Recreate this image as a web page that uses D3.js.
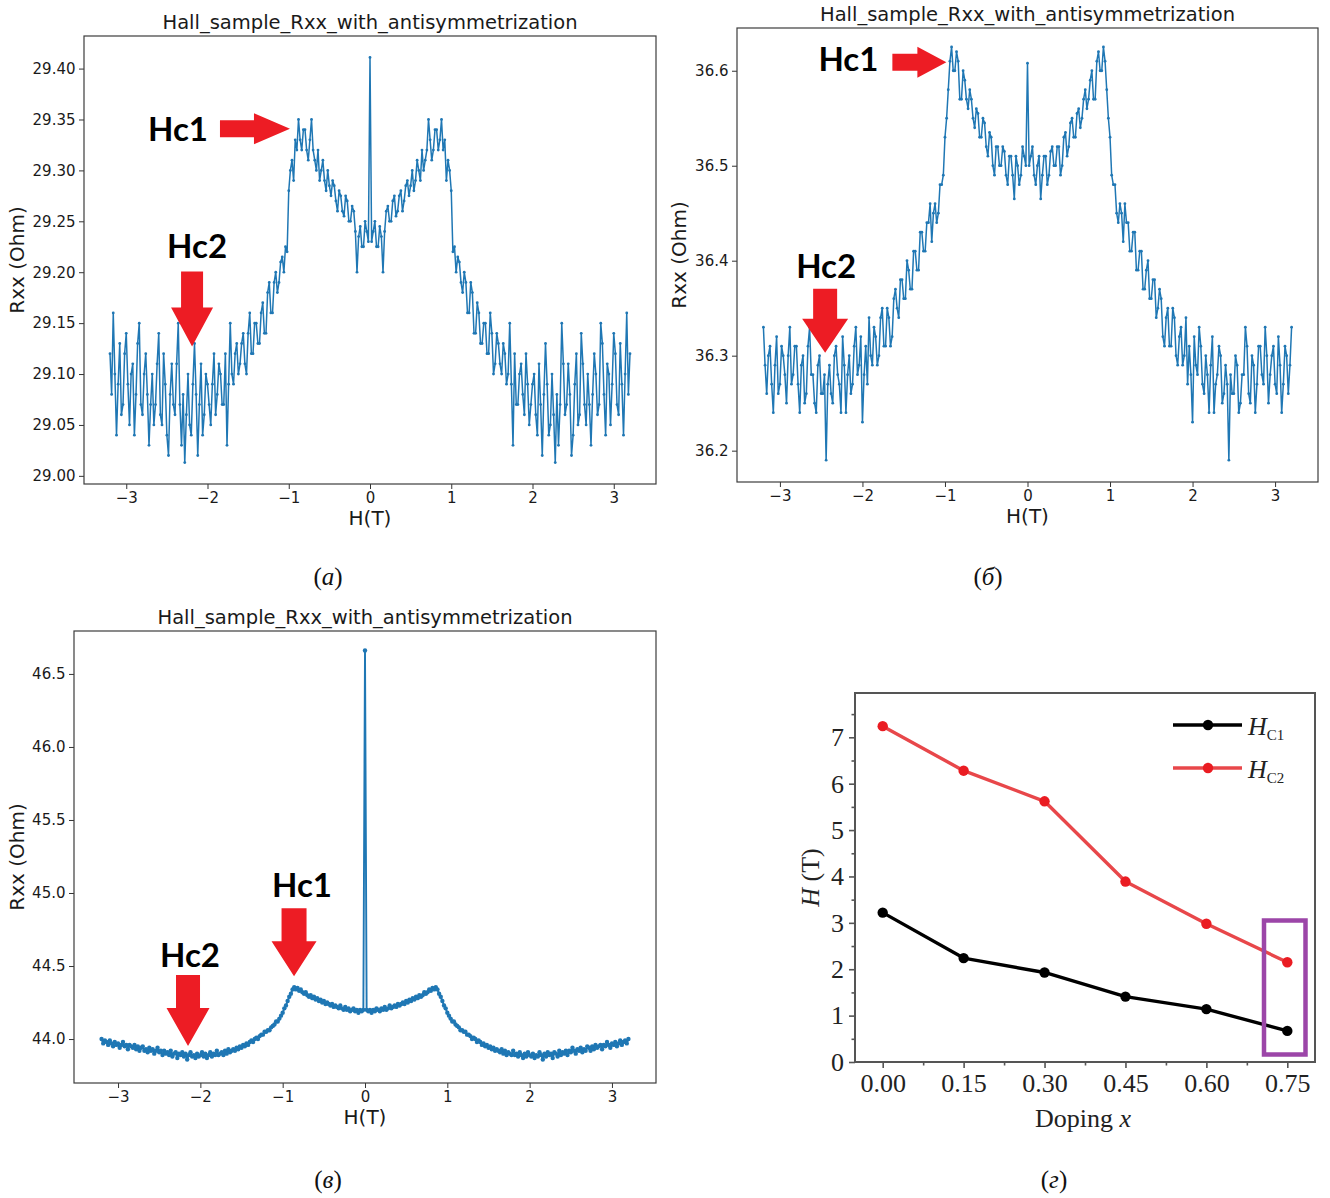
<!DOCTYPE html>
<html>
<head>
<meta charset="utf-8">
<script src="https://cdn.jsdelivr.net/npm/d3@7/dist/d3.min.js"></script>
<style>
  html, body { margin: 0; padding: 0; background: #fff; }
  svg { display: block; }
</style>
</head>
<body>
<svg id="fig" width="1330" height="1198"></svg>
<script>
// Magnetic field sweep (T), shared by the three Rxx measurements
const fieldT = [
  -3.2,-3.18,-3.16,-3.14,-3.12,-3.1,-3.08,-3.06,-3.04,-3.02,
  -3,-2.98,-2.96,-2.94,-2.92,-2.9,-2.88,-2.86,-2.84,-2.82,
  -2.8,-2.78,-2.76,-2.74,-2.72,-2.7,-2.68,-2.66,-2.64,-2.62,
  -2.6,-2.58,-2.56,-2.54,-2.52,-2.5,-2.48,-2.46,-2.44,-2.42,
  -2.4,-2.38,-2.36,-2.34,-2.32,-2.3,-2.28,-2.26,-2.24,-2.22,
  -2.2,-2.18,-2.16,-2.14,-2.12,-2.1,-2.08,-2.06,-2.04,-2.02,
  -2,-1.98,-1.96,-1.94,-1.92,-1.9,-1.88,-1.86,-1.84,-1.82,
  -1.8,-1.78,-1.76,-1.74,-1.72,-1.7,-1.68,-1.66,-1.64,-1.62,
  -1.6,-1.58,-1.56,-1.54,-1.52,-1.5,-1.48,-1.46,-1.44,-1.42,
  -1.4,-1.38,-1.36,-1.34,-1.32,-1.3,-1.28,-1.26,-1.24,-1.22,
  -1.2,-1.18,-1.16,-1.14,-1.12,-1.1,-1.08,-1.06,-1.04,-1.02,
  -1,-0.98,-0.96,-0.94,-0.92,-0.9,-0.88,-0.86,-0.84,-0.82,
  -0.8,-0.78,-0.76,-0.74,-0.72,-0.7,-0.68,-0.66,-0.64,-0.62,
  -0.6,-0.58,-0.56,-0.54,-0.52,-0.5,-0.48,-0.46,-0.44,-0.42,
  -0.4,-0.38,-0.36,-0.34,-0.32,-0.3,-0.28,-0.26,-0.24,-0.22,
  -0.2,-0.18,-0.16,-0.14,-0.12,-0.1,-0.08,-0.06,-0.04,-0.02,
  0,
  0.02,0.04,0.06,0.08,0.1,0.12,0.14,0.16,0.18,0.2,
  0.22,0.24,0.26,0.28,0.3,0.32,0.34,0.36,0.38,0.4,
  0.42,0.44,0.46,0.48,0.5,0.52,0.54,0.56,0.58,0.6,
  0.62,0.64,0.66,0.68,0.7,0.72,0.74,0.76,0.78,0.8,
  0.82,0.84,0.86,0.88,0.9,0.92,0.94,0.96,0.98,1,
  1.02,1.04,1.06,1.08,1.1,1.12,1.14,1.16,1.18,1.2,
  1.22,1.24,1.26,1.28,1.3,1.32,1.34,1.36,1.38,1.4,
  1.42,1.44,1.46,1.48,1.5,1.52,1.54,1.56,1.58,1.6,
  1.62,1.64,1.66,1.68,1.7,1.72,1.74,1.76,1.78,1.8,
  1.82,1.84,1.86,1.88,1.9,1.92,1.94,1.96,1.98,2,
  2.02,2.04,2.06,2.08,2.1,2.12,2.14,2.16,2.18,2.2,
  2.22,2.24,2.26,2.28,2.3,2.32,2.34,2.36,2.38,2.4,
  2.42,2.44,2.46,2.48,2.5,2.52,2.54,2.56,2.58,2.6,
  2.62,2.64,2.66,2.68,2.7,2.72,2.74,2.76,2.78,2.8,
  2.82,2.84,2.86,2.88,2.9,2.92,2.94,2.96,2.98,3,
  3.02,3.04,3.06,3.08,3.1,3.12,3.14,3.16,3.18,3.2
];

// Rxx (Ohm), sample (а) — symmetrised in field
const rxxA = [
  29.12,29.08,29.16,29.10,29.04,29.09,29.13,29.06,29.07,29.12,29.14,29.09,29.05,29.10,29.11,29.04,29.08,29.13,29.15,29.07,
  29.06,29.10,29.12,29.08,29.03,29.07,29.10,29.05,29.07,29.11,29.14,29.06,29.05,29.12,29.09,29.04,29.02,29.08,29.11,29.07,
  29.06,29.11,29.15,29.07,29.03,29.08,29.013,29.06,29.10,29.05,29.04,29.09,29.13,29.08,29.02,29.07,29.11,29.04,29.06,29.10,
  29.09,29.07,29.05,29.09,29.12,29.06,29.08,29.11,29.10,29.07,29.07,29.12,29.03,29.09,29.15,29.10,29.09,29.12,29.13,29.10,
  29.11,29.13,29.14,29.11,29.10,29.14,29.16,29.12,29.12,29.15,29.15,29.13,29.13,29.16,29.17,29.14,29.14,29.18,29.19,29.16,
  29.16,29.19,29.20,29.18,29.19,29.21,29.215,29.20,29.225,29.22,29.28,29.30,29.31,29.29,29.33,29.32,29.35,29.33,29.32,29.34,
  29.34,29.32,29.31,29.33,29.35,29.32,29.31,29.30,29.32,29.29,29.30,29.31,29.29,29.28,29.30,29.285,29.275,29.29,29.285,29.27,
  29.26,29.28,29.275,29.26,29.255,29.275,29.27,29.25,29.25,29.265,29.26,29.24,29.20,29.235,29.245,29.225,29.225,29.25,29.24,29.23,
  29.411,
  29.23,29.24,29.25,29.225,29.225,29.245,29.235,29.20,29.24,29.26,29.265,29.25,29.25,29.27,29.275,29.255,29.26,29.275,29.28,29.26,
  29.27,29.285,29.29,29.275,29.285,29.30,29.28,29.29,29.31,29.30,29.29,29.32,29.30,29.31,29.32,29.35,29.33,29.31,29.32,29.34,
  29.34,29.32,29.33,29.35,29.32,29.33,29.29,29.31,29.30,29.28,29.22,29.225,29.20,29.215,29.21,29.19,29.18,29.20,29.19,29.16,
  29.16,29.19,29.18,29.14,29.14,29.17,29.16,29.13,29.13,29.15,29.15,29.12,29.12,29.16,29.14,29.10,29.11,29.14,29.13,29.11,
  29.10,29.13,29.12,29.09,29.10,29.15,29.09,29.03,29.12,29.07,29.07,29.10,29.11,29.08,29.06,29.12,29.09,29.05,29.07,29.09,
  29.10,29.06,29.04,29.11,29.07,29.02,29.08,29.13,29.09,29.04,29.05,29.10,29.06,29.013,29.08,29.03,29.07,29.15,29.11,29.06,
  29.07,29.11,29.08,29.02,29.04,29.09,29.12,29.05,29.06,29.14,29.11,29.07,29.05,29.10,29.07,29.03,29.08,29.12,29.10,29.06,
  29.07,29.15,29.13,29.08,29.04,29.11,29.10,29.05,29.09,29.14,29.12,29.07,29.06,29.13,29.09,29.04,29.10,29.16,29.08,29.12
];

// Rxx (Ohm), sample (б)
const rxxB = [
  36.33,36.29,36.26,36.30,36.31,36.27,36.24,36.29,36.32,36.26,36.27,36.31,36.30,36.28,36.25,36.30,36.33,36.27,36.28,36.31,
  36.31,36.27,36.24,36.29,36.30,36.25,36.26,36.31,36.33,36.28,36.28,36.25,36.24,36.29,36.30,36.26,36.26,36.28,36.19,36.27,
  36.29,36.26,36.25,36.30,36.31,36.28,36.27,36.24,36.32,36.29,36.24,36.28,36.30,36.26,36.27,36.31,36.33,36.28,36.29,36.32,
  36.23,36.28,36.31,36.27,36.34,36.30,36.29,36.33,36.32,36.29,36.30,36.34,36.35,36.31,36.31,36.35,36.34,36.31,36.32,36.36,
  36.37,36.35,36.34,36.38,36.38,36.36,36.36,36.40,36.39,36.37,36.37,36.41,36.41,36.39,36.39,36.43,36.43,36.41,36.41,36.44,
  36.44,36.46,36.42,36.45,36.46,36.44,36.45,36.48,36.48,36.49,36.53,36.55,36.58,36.61,36.625,36.60,36.60,36.62,36.61,36.57,
  36.57,36.60,36.59,36.57,36.56,36.58,36.57,36.55,36.54,36.56,36.555,36.53,36.53,36.55,36.545,36.52,36.51,36.535,36.53,36.50,
  36.49,36.52,36.52,36.50,36.50,36.52,36.515,36.49,36.48,36.51,36.51,36.49,36.465,36.51,36.50,36.48,36.49,36.52,36.51,36.50,
  36.608,
  36.50,36.51,36.52,36.49,36.48,36.50,36.51,36.465,36.49,36.51,36.51,36.48,36.49,36.515,36.52,36.50,36.50,36.52,36.52,36.49,
  36.50,36.53,36.535,36.51,36.52,36.545,36.55,36.53,36.53,36.555,36.56,36.54,36.55,36.57,36.58,36.56,36.57,36.59,36.60,36.57,
  36.57,36.61,36.62,36.60,36.60,36.625,36.61,36.58,36.55,36.53,36.49,36.48,36.48,36.45,36.44,36.46,36.45,36.42,36.46,36.44,
  36.44,36.41,36.41,36.43,36.43,36.39,36.39,36.41,36.41,36.37,36.37,36.39,36.40,36.36,36.36,36.38,36.38,36.34,36.35,36.37,
  36.36,36.32,36.31,36.34,36.35,36.31,36.31,36.35,36.34,36.30,36.29,36.32,36.33,36.29,36.30,36.34,36.27,36.31,36.28,36.23,
  36.32,36.29,36.28,36.33,36.31,36.27,36.26,36.30,36.28,36.24,36.29,36.32,36.24,36.27,36.28,36.31,36.30,36.25,36.26,36.29,
  36.27,36.19,36.28,36.26,36.26,36.30,36.29,36.24,36.25,36.28,36.28,36.33,36.31,36.26,36.25,36.30,36.29,36.24,36.27,36.31,
  36.31,36.28,36.27,36.33,36.30,36.25,36.28,36.30,36.31,36.27,36.26,36.32,36.29,36.24,36.27,36.31,36.30,36.26,36.29,36.33
];

// Rxx (Ohm), sample (в)
const rxxC = [
  44.00,43.97,43.99,43.98,43.96,43.99,43.97,43.95,43.98,43.96,43.97,43.94,43.96,43.98,43.95,43.96,43.93,43.96,43.95,43.94,
  43.96,43.93,43.95,43.92,43.94,43.95,43.92,43.93,43.91,43.94,43.92,43.93,43.90,43.92,43.94,43.91,43.92,43.89,43.92,43.90,
  43.91,43.89,43.92,43.88,43.90,43.91,43.87,43.90,43.89,43.91,43.88,43.90,43.86,43.89,43.91,43.88,43.89,43.87,43.90,43.88,
  43.89,43.91,43.88,43.90,43.87,43.89,43.91,43.88,43.90,43.89,43.92,43.89,43.90,43.91,43.89,43.92,43.90,43.93,43.91,43.92,
  43.93,43.92,43.94,43.93,43.95,43.94,43.96,43.95,43.97,43.96,43.98,43.99,43.98,44.00,44.01,44.00,44.02,44.03,44.03,44.05,
  44.05,44.06,44.06,44.08,44.09,44.10,44.12,44.12,44.14,44.16,44.18,44.21,44.23,44.26,44.29,44.31,44.34,44.355,44.34,44.35,
  44.33,44.34,44.32,44.31,44.32,44.30,44.29,44.30,44.28,44.29,44.27,44.28,44.26,44.27,44.25,44.26,44.24,44.25,44.24,44.23,
  44.24,44.22,44.23,44.22,44.21,44.23,44.21,44.20,44.22,44.20,44.21,44.19,44.20,44.21,44.19,44.20,44.18,44.20,44.19,44.20,
  46.66,
  44.20,44.19,44.20,44.18,44.20,44.19,44.21,44.20,44.19,44.21,44.20,44.22,44.20,44.21,44.23,44.21,44.22,44.23,44.22,44.24,
  44.23,44.24,44.25,44.24,44.26,44.25,44.27,44.26,44.28,44.27,44.29,44.28,44.30,44.29,44.30,44.32,44.31,44.32,44.34,44.33,
  44.35,44.34,44.355,44.34,44.31,44.29,44.26,44.23,44.21,44.18,44.16,44.14,44.12,44.12,44.10,44.09,44.08,44.06,44.06,44.05,
  44.05,44.03,44.03,44.02,44.00,44.01,44.00,43.98,43.99,43.98,43.96,43.97,43.95,43.96,43.94,43.95,43.93,43.94,43.92,43.93,
  43.92,43.91,43.93,43.90,43.92,43.89,43.91,43.90,43.89,43.92,43.89,43.90,43.88,43.91,43.89,43.87,43.90,43.88,43.91,43.89,
  43.88,43.90,43.87,43.89,43.88,43.91,43.89,43.86,43.90,43.88,43.91,43.89,43.90,43.87,43.91,43.90,43.88,43.92,43.89,43.91,
  43.90,43.92,43.89,43.92,43.91,43.94,43.92,43.90,43.93,43.92,43.94,43.91,43.93,43.92,43.95,43.94,43.92,43.95,43.93,43.96,
  43.94,43.95,43.96,43.93,43.96,43.95,43.98,43.96,43.94,43.97,43.96,43.98,43.95,43.97,43.99,43.96,43.98,43.99,43.97,44.00
];

// Tick values
const fieldTicks = [-3, -2, -1, 0, 1, 2, 3];
const aYTicks = [29.00, 29.05, 29.10, 29.15, 29.20, 29.25, 29.30, 29.35, 29.40];
const bYTicks = [36.2, 36.3, 36.4, 36.5, 36.6];
const cYTicks = [44.0, 44.5, 45.0, 45.5, 46.0, 46.5];

// Critical fields vs doping
const doping = [0.00, 0.15, 0.30, 0.45, 0.60, 0.75];
const hc1 = [3.22, 2.24, 1.93, 1.41, 1.14, 0.67];
const hc2 = [7.24, 6.28, 5.62, 3.89, 2.98, 2.15];
const dopingTicks = [0.00, 0.15, 0.30, 0.45, 0.60, 0.75];
const dopingMinor = [0.075, 0.225, 0.375, 0.525, 0.675];
const hTicks = [0, 1, 2, 3, 4, 5, 6, 7];
const hMinor = [0.5, 1.5, 2.5, 3.5, 4.5, 5.5, 6.5, 7.5];

const TITLE = "Hall_sample_Rxx_with_antisymmetrization";
const BLUE = "#1f77b4";
const ARROW_RED = "#ed1c24";
const MPL_FONT = "'DejaVu Sans', sans-serif";
const SERIF = "'Liberation Serif', 'Times New Roman', serif";

const svg = d3.select("#fig");

const minusFmt = d => (d < 0 ? "\u2212" + Math.abs(d) : String(d));

function drawRxxPanel(cfg) {
  const g = svg.append("g");
  const x = d3.scaleLinear().domain(cfg.xDomain).range([cfg.left, cfg.right]);
  const y = d3.scaleLinear().domain(cfg.yDomain).range([cfg.bottom, cfg.top]);
  const pts = fieldT.map((h, i) => [h, cfg.values[i]]).filter(p => p[1] != null);

  // axes
  const xAxis = d3.axisBottom(x).tickValues(fieldTicks).tickFormat(minusFmt)
    .tickSize(5).tickPadding(3.5).tickSizeOuter(0);
  const yAxis = d3.axisLeft(y).tickValues(cfg.yTicks).tickFormat(d3.format(cfg.yFormat))
    .tickSize(5).tickPadding(3.5).tickSizeOuter(0);
  const gx = g.append("g").attr("transform", `translate(0,${cfg.bottom})`).call(xAxis);
  const gy = g.append("g").attr("transform", `translate(${cfg.left},0)`).call(yAxis);
  [gx, gy].forEach(a => {
    a.select(".domain").remove();
    a.selectAll(".tick line").attr("stroke", "#333").attr("stroke-width", 1);
    a.selectAll(".tick text").attr("fill", "#1a1a1a")
      .style("font-family", MPL_FONT).style("font-size", "15px");
  });

  // data trace: line plus dot markers
  g.append("path")
    .datum(pts)
    .attr("fill", "none")
    .attr("stroke", BLUE)
    .attr("stroke-width", cfg.lineW)
    .attr("stroke-linejoin", "round")
    .attr("d", d3.line().x(d => x(d[0])).y(d => y(d[1])));
  g.append("g").selectAll("circle").data(pts).join("circle")
    .attr("cx", d => x(d[0])).attr("cy", d => y(d[1]))
    .attr("r", cfg.markerR).attr("fill", BLUE);

  // frame
  g.append("rect")
    .attr("x", cfg.left).attr("y", cfg.top)
    .attr("width", cfg.right - cfg.left).attr("height", cfg.bottom - cfg.top)
    .attr("fill", "none").attr("stroke", "#3c3c3c").attr("stroke-width", 1.2);

  // title and labels
  const cx = (cfg.left + cfg.right) / 2;
  g.append("text").attr("x", cx).attr("y", cfg.top - 7)
    .attr("text-anchor", "middle").attr("fill", "#1a1a1a")
    .style("font-family", MPL_FONT).style("font-size", "19.5px").text(TITLE);
  g.append("text").attr("x", cx).attr("y", cfg.bottom + 41)
    .attr("text-anchor", "middle").attr("fill", "#1a1a1a")
    .style("font-family", MPL_FONT).style("font-size", "20px").text("H(T)");
  g.append("text")
    .attr("transform", `translate(${cfg.ylabelX},${(cfg.top + cfg.bottom) / 2}) rotate(-90)`)
    .attr("text-anchor", "middle").attr("fill", "#1a1a1a")
    .style("font-family", MPL_FONT).style("font-size", "20px").text("Rxx (Ohm)");

  return { g, x, y };
}

// block arrows (tip given in pixels)
function rightArrow(g, tx, ty, s) {
  const p = [
    [tx - s.head - s.shaft, ty - s.sh], [tx - s.head, ty - s.sh], [tx - s.head, ty - s.hh],
    [tx, ty], [tx - s.head, ty + s.hh], [tx - s.head, ty + s.sh], [tx - s.head - s.shaft, ty + s.sh]
  ];
  g.append("polygon").attr("points", p.map(q => q.join(",")).join(" ")).attr("fill", ARROW_RED);
}
function downArrow(g, tx, ty, s) {
  const p = [
    [tx - s.sh, ty - s.head - s.shaft], [tx + s.sh, ty - s.head - s.shaft], [tx + s.sh, ty - s.head],
    [tx + s.hh, ty - s.head], [tx, ty], [tx - s.hh, ty - s.head], [tx - s.sh, ty - s.head]
  ];
  g.append("polygon").attr("points", p.map(q => q.join(",")).join(" ")).attr("fill", ARROW_RED);
}
function markLabel(g, x, y, txt, anchor) {
  g.append("text").attr("x", x).attr("y", y).attr("text-anchor", anchor || "middle")
    .attr("fill", "#000").style("font-family", "Lato, 'Open Sans', sans-serif")
    .style("font-weight", 700).style("font-size", "33px").text(txt);
}

// ---- (а)
const pa = drawRxxPanel({
  left: 84, right: 656, top: 36, bottom: 484,
  xDomain: [-3.52, 3.52], yDomain: [28.992, 29.432],
  values: rxxA, yTicks: aYTicks, yFormat: ".2f", ylabelX: 24, markerR: 1.4, lineW: 1.5
});
{
  const tx = pa.x(-0.985), ty = pa.y(29.341);
  rightArrow(pa.g, tx, ty, { shaft: 34, sh: 8.5, head: 36, hh: 15.5 });
  markLabel(pa.g, tx - 82, ty + 12, "Hc1", "end");
  const dx = pa.x(-2.19), dy = pa.y(29.127);
  downArrow(pa.g, dx, dy, { shaft: 36, sh: 11, head: 39, hh: 21 });
  markLabel(pa.g, dx + 5, dy - 89, "Hc2");
}

// ---- (б)
const pb = drawRxxPanel({
  left: 737, right: 1318, top: 28, bottom: 482,
  xDomain: [-3.52, 3.52], yDomain: [36.167, 36.645],
  values: rxxB, yTicks: bYTicks, yFormat: ".1f", ylabelX: 686, markerR: 1.4, lineW: 1.5
});
{
  const tx = pb.x(-0.983), ty = pb.y(36.609);
  rightArrow(pb.g, tx, ty, { shaft: 25, sh: 8.5, head: 29, hh: 15.5 });
  markLabel(pb.g, tx - 68, ty + 9, "Hc1", "end");
  const dx = pb.x(-2.452), dy = pb.y(36.303);
  downArrow(pb.g, dx, dy, { shaft: 30, sh: 12, head: 34, hh: 23 });
  markLabel(pb.g, dx + 1, dy - 75, "Hc2");
}

// ---- (в)
const pc = drawRxxPanel({
  left: 74, right: 656, top: 631, bottom: 1083,
  xDomain: [-3.535, 3.535], yDomain: [43.699, 46.794],
  values: rxxC, yTicks: cYTicks, yFormat: ".1f", ylabelX: 24, markerR: 2.2, lineW: 1.9
});
{
  const dx2 = pc.x(-2.15), dy2 = pc.y(43.952);
  downArrow(pc.g, dx2, dy2, { shaft: 33, sh: 12, head: 38, hh: 21.5 });
  markLabel(pc.g, dx2 + 2, dy2 - 79, "Hc2");
  const dx1 = pc.x(-0.862), dy1 = pc.y(44.43);
  downArrow(pc.g, dx1, dy1, { shaft: 33, sh: 12.5, head: 35, hh: 22.5 });
  markLabel(pc.g, dx1 + 8, dy1 - 79, "Hc1");
}

// ---- (г) critical fields vs doping
{
  const L = 855, R = 1315, T = 693, B = 1062;
  const g = svg.append("g");
  const x = d3.scaleLinear().domain([0, 0.75]).range([882.7, 1287.3]);
  const y = d3.scaleLinear().domain([0, 7]).range([B, 737.3]);

  const xAxis = d3.axisBottom(x).tickValues(dopingTicks).tickFormat(d3.format(".2f"))
    .tickSize(6).tickPadding(6).tickSizeOuter(0);
  const yAxis = d3.axisLeft(y).tickValues(hTicks).tickFormat(d3.format("d"))
    .tickSize(6).tickPadding(5).tickSizeOuter(0);
  const gx = g.append("g").attr("transform", `translate(0,${B})`).call(xAxis);
  const gy = g.append("g").attr("transform", `translate(${L},0)`).call(yAxis);
  const gxm = g.append("g").attr("transform", `translate(0,${B})`)
    .call(d3.axisBottom(x).tickValues(dopingMinor).tickFormat("").tickSize(3.5).tickSizeOuter(0));
  const gym = g.append("g").attr("transform", `translate(${L},0)`)
    .call(d3.axisLeft(y).tickValues(hMinor).tickFormat("").tickSize(3.5).tickSizeOuter(0));
  [gx, gy, gxm, gym].forEach(a => {
    a.select(".domain").remove();
    a.selectAll(".tick line").attr("stroke", "#555").attr("stroke-width", 1.6);
    a.selectAll(".tick text").attr("fill", "#222")
      .style("font-family", SERIF).style("font-size", "26px");
  });

  g.append("rect").attr("x", L).attr("y", T).attr("width", R - L).attr("height", B - T)
    .attr("fill", "none").attr("stroke", "#555").attr("stroke-width", 2);

  const series = [
    { vals: hc2, line: "#e8474a", dot: "#ea1c22", sub: "C2", ly: 768 },
    { vals: hc1, line: "#000", dot: "#000", sub: "C1", ly: 725 }
  ];
  series.forEach(s => {
    const pts = doping.map((d, i) => [d, s.vals[i]]);
    g.append("path").datum(pts).attr("fill", "none").attr("stroke", s.line)
      .attr("stroke-width", 3.4).attr("stroke-linejoin", "round")
      .attr("d", d3.line().x(d => x(d[0])).y(d => y(d[1])));
    g.append("g").selectAll("circle").data(pts).join("circle")
      .attr("cx", d => x(d[0])).attr("cy", d => y(d[1])).attr("r", 5.2).attr("fill", s.dot);
    // legend entry
    g.append("line").attr("x1", 1173).attr("x2", 1242).attr("y1", s.ly).attr("y2", s.ly)
      .attr("stroke", s.line).attr("stroke-width", 3.4);
    g.append("circle").attr("cx", 1208).attr("cy", s.ly).attr("r", 5.2).attr("fill", s.dot);
    const t = g.append("text").attr("x", 1248).attr("y", s.ly + 10).attr("fill", "#222")
      .style("font-family", SERIF).style("font-size", "26px");
    t.append("tspan").style("font-style", "italic").text("H");
    t.append("tspan").attr("dy", 5).style("font-size", "15px").text(s.sub);
  });

  // highlight of the x = 0.75 sample
  g.append("rect").attr("x", 1264).attr("y", 920.5).attr("width", 41.5).attr("height", 134)
    .attr("fill", "none").attr("stroke", "#9c46a8").attr("stroke-width", 4.5);

  const xl = g.append("text").attr("x", 1083).attr("y", 1127).attr("text-anchor", "middle")
    .attr("fill", "#222").style("font-family", SERIF).style("font-size", "26px");
  xl.append("tspan").text("Doping ");
  xl.append("tspan").style("font-style", "italic").text("x");
  const yl = g.append("text").attr("transform", `translate(819,${(T + B) / 2}) rotate(-90)`)
    .attr("text-anchor", "middle").attr("fill", "#222")
    .style("font-family", SERIF).style("font-size", "26px");
  yl.append("tspan").style("font-style", "italic").text("H");
  yl.append("tspan").text(" (T)");
}

// panel captions
const captions = [
  { x: 328, y: 585, letter: "a" },
  { x: 988, y: 585, letter: "б" },
  { x: 328, y: 1188, letter: "в" },
  { x: 1054, y: 1188, letter: "г" }
];
captions.forEach(c => {
  const t = svg.append("text").attr("x", c.x).attr("y", c.y).attr("text-anchor", "middle")
    .attr("fill", "#111").style("font-family", SERIF).style("font-size", "25px");
  t.append("tspan").text("(");
  t.append("tspan").style("font-style", "italic").text(c.letter);
  t.append("tspan").text(")");
});
</script>
</body>
</html>
